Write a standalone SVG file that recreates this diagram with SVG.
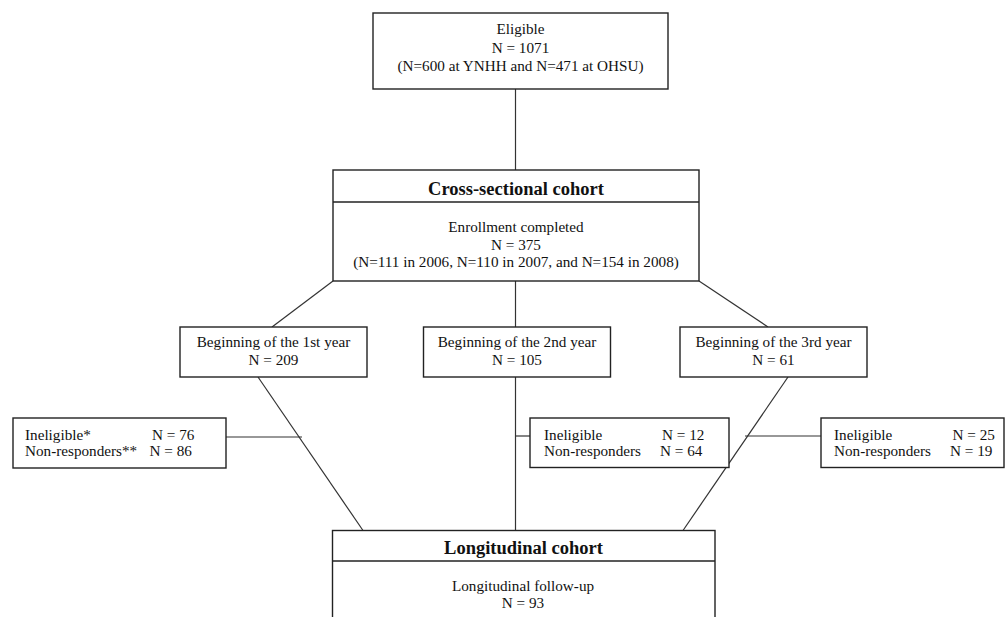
<svg xmlns="http://www.w3.org/2000/svg" width="1008" height="617" viewBox="0 0 1008 617">
<style>
.box{fill:#fff;stroke:#222;stroke-width:1.4}
.ln{fill:none;stroke:#333;stroke-width:1.2}
text{font-family:'Liberation Serif','DejaVu Serif',serif;font-size:15.2px;fill:#111}
.c{text-anchor:middle}
.b{font-weight:bold;font-size:18.5px}
</style>
<rect width="1008" height="617" fill="#fff"/>
<g id="connectors">
<line class="ln" x1="515.5" y1="89" x2="515.5" y2="170"/>
<line class="ln" x1="515.5" y1="281" x2="515.5" y2="327"/>
<line class="ln" x1="515.5" y1="377" x2="515.5" y2="530.5"/>
<line class="ln" x1="515.5" y1="436" x2="530" y2="436"/>
<line class="ln" x1="333" y1="281" x2="272" y2="327"/>
<line class="ln" x1="699" y1="281" x2="768" y2="327"/>
<line class="ln" x1="258" y1="377" x2="363" y2="530.5"/>
<line class="ln" x1="788" y1="377" x2="683" y2="530.5"/>
<line class="ln" x1="226" y1="437" x2="302" y2="437"/>
<line class="ln" x1="745" y1="436" x2="821" y2="436"/>
</g>
<g id="eligible">
<rect class="box" x="373" y="13" width="295" height="76"/>
<text class="c" x="520.5" y="34">Eligible</text>
<text class="c" x="520.5" y="52.5">N = 1071</text>
<text class="c" x="520.5" y="70.5">(N=600 at YNHH and N=471 at OHSU)</text>
</g>
<g id="cross-sectional">
<rect class="box" x="333" y="170" width="366" height="111"/>
<line class="box" x1="333" y1="202" x2="699" y2="202"/>
<text class="c b" x="516" y="195">Cross-sectional cohort</text>
<text class="c" x="516" y="232">Enrollment completed</text>
<text class="c" x="516" y="249.5">N = 375</text>
<text class="c" x="516" y="267">(N=111 in 2006, N=110 in 2007, and N=154 in 2008)</text>
</g>
<g id="year1">
<rect class="box" x="180" y="327" width="187" height="50"/>
<text class="c" x="273.5" y="347">Beginning of the 1st year</text>
<text class="c" x="273.5" y="364.5">N = 209</text>
</g>
<g id="year2">
<rect class="box" x="423.5" y="327" width="187" height="50"/>
<text class="c" x="517" y="347">Beginning of the 2nd year</text>
<text class="c" x="517" y="364.5">N = 105</text>
</g>
<g id="year3">
<rect class="box" x="680" y="327" width="187" height="50"/>
<text class="c" x="773.5" y="347">Beginning of the 3rd year</text>
<text class="c" x="773.5" y="364.5">N = 61</text>
</g>
<g id="excluded1">
<rect class="box" x="13" y="418" width="213" height="50"/>
<text x="25" y="439.5">Ineligible*</text>
<text x="152" y="439.5">N = 76</text>
<text x="25" y="455.5">Non-responders**</text>
<text x="149.5" y="455.5">N = 86</text>
</g>
<g id="excluded2">
<rect class="box" x="530" y="418" width="199" height="49.5"/>
<text x="544" y="439.5">Ineligible</text>
<text x="662" y="439.5">N = 12</text>
<text x="544" y="455.5">Non-responders</text>
<text x="660" y="455.5">N = 64</text>
</g>
<g id="excluded3">
<rect class="box" x="821" y="418" width="183" height="49.5"/>
<text x="834" y="439.5">Ineligible</text>
<text x="952.5" y="439.5">N = 25</text>
<text x="834" y="455.5">Non-responders</text>
<text x="950" y="455.5">N = 19</text>
</g>
<g id="longitudinal">
<rect class="box" x="332.5" y="530.5" width="382.5" height="110"/>
<line class="box" x1="332.5" y1="561" x2="715" y2="561"/>
<text class="c b" x="523.5" y="554">Longitudinal cohort</text>
<text class="c" x="523" y="591">Longitudinal follow-up</text>
<text class="c" x="523" y="608">N = 93</text>
</g>
</svg>
